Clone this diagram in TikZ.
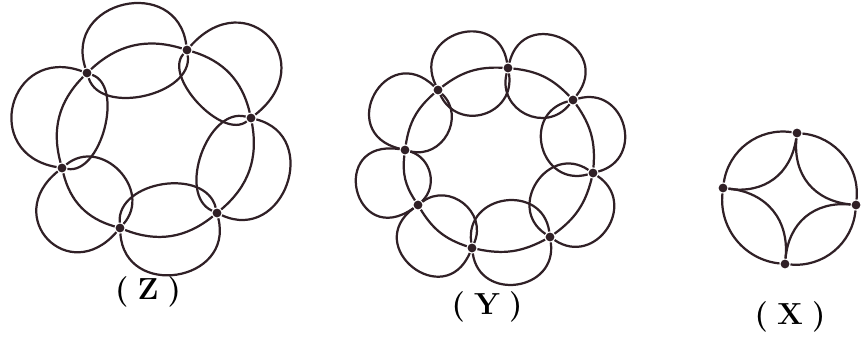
\documentclass[tikz,border=0pt]{standalone}
\usetikzlibrary{positioning}
\definecolor{ink}{RGB}{48,32,38}

\begin{document}
\begin{tikzpicture}[x=0.03cm, y=-0.03cm, line width=1.9pt, ink,
  vtx/.style={circle, fill=ink, inner sep=0pt, minimum size=7.5pt},
  lbl/.style={font=\fontsize{26}{30}\selectfont\bfseries, text=black}]
  \useasboundingbox (0,0) rectangle (865,349);
  \begin{scope}
    \node[vtx] (z1) at (87,73) {}; \node[vtx] (z2) at (187,50) {};
    \node[vtx] (z3) at (251,118) {}; \node[vtx] (z4) at (217,213) {};
    \node[vtx] (z5) at (120,228) {}; \node[vtx] (z6) at (62,168) {};
    \foreach \a/\b/\lo/\li in {z1/z2/1.75/1.0, z2/z3/2.3/0.85, z3/z4/1.7/1.0,
                               z4/z5/1.7/1.1, z5/z6/2.2/1.4, z6/z1/2.0/0.9}
      \draw (\a) to[bend left=95, looseness=\lo] (\b)
            (\a) to[bend right=85, looseness=\li] (\b)
            (\a) to[bend left=30] (\b);
    \node[lbl] (zlab) at (148,292) {(\hspace{0.3em}Z\hspace{0.3em})};
  \end{scope}
  \begin{scope}
    \node[vtx] (y1) at (438,90) {}; \node[vtx] (y2) at (508,68) {};
    \node[vtx] (y3) at (573,100) {}; \node[vtx] (y4) at (593,173) {};
    \node[vtx] (y5) at (550,237) {}; \node[vtx] (y6) at (472,248) {};
    \node[vtx] (y7) at (418,205) {}; \node[vtx] (y8) at (405,150) {};
    \foreach \a/\b/\o/\lo/\i/\li in {y1/y2/98/1.95/82/1.5, y2/y3/102/2.1/78/1.4,
        y3/y4/90/1.65/90/1.65, y4/y5/90/1.65/90/1.6, y5/y6/90/1.6/90/1.6,
        y6/y7/105/2.3/75/1.3, y7/y8/112/3.1/60/1.1, y8/y1/105/2.4/75/1.3}
      \draw (\a) to[bend left=\o, looseness=\lo] (\b)
            (\a) to[bend right=\i, looseness=\li] (\b)
            (\a) to[bend left=20] (\b);
    \node[lbl] (ylab) at (487,307) {(\hspace{0.3em}Y\hspace{0.3em})};
  \end{scope}
  \begin{scope}
    \node[vtx] (x1) at (797,133) {}; \node[vtx] (x2) at (856,205) {};
    \node[vtx] (x3) at (785,264) {}; \node[vtx] (x4) at (723,188) {};
    \foreach \a/\b in {x1/x2, x2/x3, x3/x4, x4/x1}
      \draw (\a) to[bend left=45] (\b)
            (\a) to[bend right=45, looseness=1.1] (\b);
    \node[lbl] (xlab) at (790,317) {(\hspace{0.3em}X\hspace{0.3em})};
  \end{scope}
\end{tikzpicture}
\end{document}
